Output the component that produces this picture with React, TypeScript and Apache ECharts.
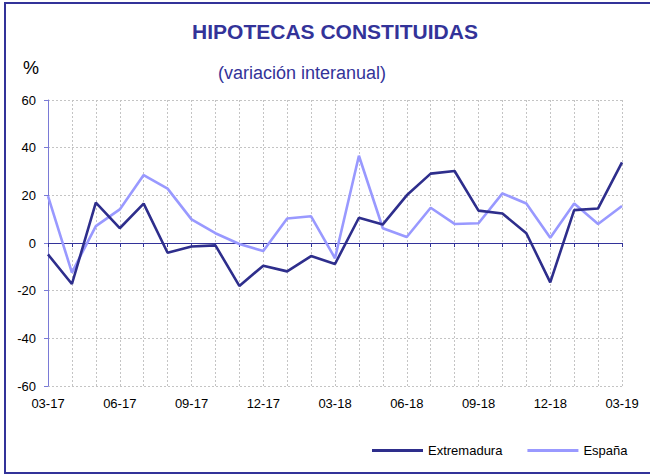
import React, { useEffect, useRef } from "react";
import * as echarts from "echarts";

const categories = [
  "03-17", "04-17", "05-17", "06-17", "07-17", "08-17", "09-17", "10-17", "11-17",
  "12-17", "01-18", "02-18", "03-18", "04-18", "05-18", "06-18", "07-18", "08-18",
  "09-18", "10-18", "11-18", "12-18", "01-19", "02-19", "03-19",
];

const extremadura = [
  -4.8, -17.2, 16.9, 6.2, 16.5, -4.1, -1.5, -1.0, -18.0, -9.5, -11.9, -5.5,
  -8.8, 10.6, 7.8, 20.0, 29.1, 30.2, 13.6, 12.4, 4.1, -16.5, 13.8, 14.5, 33.8,
];

const espana = [
  19.7, -12.4, 7.1, 14.1, 28.5, 22.8, 9.9, 4.1, -0.4, -3.4, 10.3, 11.2,
  -6.4, 36.6, 6.2, 2.5, 14.8, 8.0, 8.3, 20.8, 16.6, 2.2, 16.6, 8.0, 15.5,
];

const seriesNames = ["Extremadura", "España"];

const FONT = "Liberation Sans, Arial, sans-serif";

export default function App() {
  const ref = useRef<HTMLDivElement>(null);

  useEffect(() => {
    document.body.style.margin = "0";
    if (!ref.current) return;
    const chart = echarts.init(ref.current, undefined, { renderer: "svg" });
    const gridLine = { show: true, lineStyle: { color: "#c4c4c4", type: [2, 2] as any, width: 1 } };
    chart.setOption({
      animation: false,
      backgroundColor: "#ffffff",
      textStyle: { fontFamily: FONT },
      grid: { left: 48, right: 28, top: 100, bottom: 89, containLabel: false },
      graphic: [
        {
          type: "rect",
          shape: { x: 5, y: 3, width: 690, height: 470 },
          style: { fill: "none", stroke: "#333399", lineWidth: 2 },
          silent: true,
        },
        {
          type: "text",
          x: 335,
          y: 31,
          style: {
            text: "HIPOTECAS CONSTITUIDAS",
            fill: "#333399",
            font: `bold 21px ${FONT}`,
            textAlign: "center",
            textVerticalAlign: "middle",
          },
        },
        {
          type: "text",
          x: 302,
          y: 73,
          style: {
            text: "(variación interanual)",
            fill: "#333399",
            font: `18px ${FONT}`,
            textAlign: "center",
            textVerticalAlign: "middle",
          },
        },
        {
          type: "text",
          x: 31,
          y: 68,
          style: {
            text: "%",
            fill: "#000000",
            font: `18px ${FONT}`,
            textAlign: "center",
            textVerticalAlign: "middle",
          },
        },
      ],
      legend: {
        data: seriesNames,
        left: 372,
        top: 444,
        padding: 0,
        icon: "rect",
        itemWidth: 51,
        itemHeight: 3,
        itemGap: 25,
        textStyle: { fontSize: 13, color: "#000000", fontFamily: FONT },
      },
      xAxis: [
        {
          type: "category",
          data: categories,
          boundaryGap: false,
          position: "bottom",
          axisLine: { show: false, onZero: false },
          axisTick: { show: false },
          axisLabel: { interval: 2, margin: 11, fontSize: 13, color: "#000000", fontFamily: FONT },
          splitLine: { ...gridLine, interval: 0 },
        },
        {
          type: "category",
          data: categories,
          boundaryGap: false,
          position: "bottom",
          axisLine: { show: true, onZero: true, lineStyle: { color: "#333399", width: 1 } },
          axisTick: { show: true, interval: 0, length: 4, lineStyle: { color: "#333399" } },
          axisLabel: { show: false },
          splitLine: { show: false },
        },
      ],
      yAxis: {
        type: "value",
        min: -60,
        max: 60,
        interval: 20,
        axisLine: { show: true, lineStyle: { color: "#7a7ad6", width: 1 } },
        axisTick: { show: true, length: 4, lineStyle: { color: "#7a7ad6" } },
        axisLabel: { margin: 12, fontSize: 13, color: "#000000", fontFamily: FONT },
        splitLine: gridLine,
      },
      series: [
        {
          name: seriesNames[0],
          type: "line",
          data: extremadura,
          xAxisIndex: 0,
          showSymbol: false,
          symbol: "none",
          lineStyle: { color: "#2e2e8c", width: 2.6 },
          itemStyle: { color: "#2e2e8c" },
          z: 3,
        },
        {
          name: seriesNames[1],
          type: "line",
          data: espana,
          xAxisIndex: 0,
          showSymbol: false,
          symbol: "none",
          lineStyle: { color: "#9999ff", width: 2.6 },
          itemStyle: { color: "#9999ff" },
          z: 2,
        },
      ],
    });
    return () => chart.dispose();
  }, []);

  return <div ref={ref} style={{ width: 650, height: 475 }} />;
}
